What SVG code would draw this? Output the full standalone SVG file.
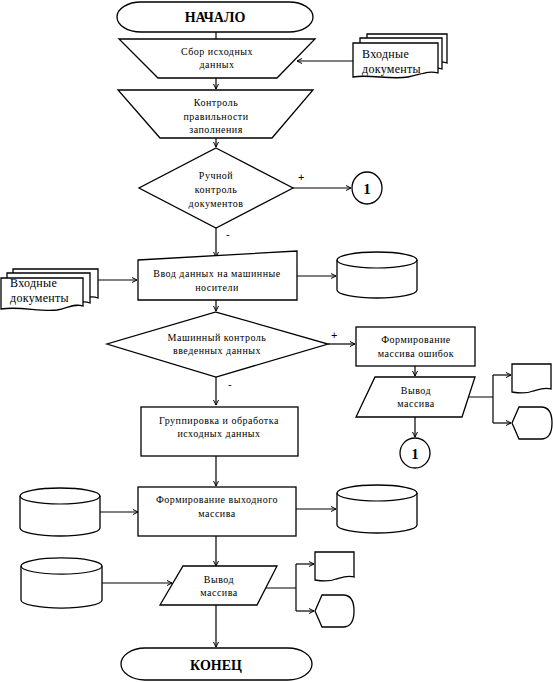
<svg xmlns="http://www.w3.org/2000/svg" width="553" height="682" viewBox="0 0 553 682">
<defs>
<style>
.s{fill:#fff;stroke:#000;stroke-width:1.3}
.c{fill:none;stroke:#000;stroke-width:1.2}
.t{font-family:"Liberation Serif","Times New Roman",serif;font-size:10px;letter-spacing:0.5px;fill:#000;text-anchor:middle}
.d{font-family:"Liberation Serif","Times New Roman",serif;font-size:12px;letter-spacing:0.3px;fill:#000}
.b{font-family:"Liberation Serif","Times New Roman",serif;font-size:14px;font-weight:bold;fill:#000;text-anchor:middle}
.l{font-family:"Liberation Sans",Arial,sans-serif;font-size:11px;fill:#000}
</style>
<marker id="a" markerWidth="8" markerHeight="8" refX="6" refY="4" orient="auto" markerUnits="userSpaceOnUse">
<path d="M1,1.5 L6,4 L1,6.5" fill="none" stroke="#000" stroke-width="1"/>
</marker>
</defs>

<g id="connectors">
<path class="c" d="M216,32 V39"/>
<path class="c" d="M216,78 V89" marker-end="url(#a)"/>
<path class="c" d="M353,61 H297" marker-end="url(#a)"/>
<path class="c" d="M216,138 V147" marker-end="url(#a)"/>
<path class="c" d="M293,188 H351" marker-end="url(#a)"/>
<path class="c" d="M216,228 V257" marker-end="url(#a)"/>
<path class="c" d="M98,280 H137" marker-end="url(#a)"/>
<path class="c" d="M297,276 H336" marker-end="url(#a)"/>
<path class="c" d="M216,300 V311" marker-end="url(#a)"/>
<path class="c" d="M328,344 H355" marker-end="url(#a)"/>
<path class="c" d="M415,366 V376" marker-end="url(#a)"/>
<path class="c" d="M468,397 H493 M493,375 V423"/>
<path class="c" d="M493,375 H511" marker-end="url(#a)"/>
<path class="c" d="M493,423 H511" marker-end="url(#a)"/>
<path class="c" d="M415,417 V437" marker-end="url(#a)"/>
<path class="c" d="M216,377 V405" marker-end="url(#a)"/>
<path class="c" d="M216,456 V486" marker-end="url(#a)"/>
<path class="c" d="M100,512 H138" marker-end="url(#a)"/>
<path class="c" d="M296,509 H336" marker-end="url(#a)"/>
<path class="c" d="M216,536 V566" marker-end="url(#a)"/>
<path class="c" d="M102,583 H172" marker-end="url(#a)"/>
<path class="c" d="M266,588 H296 M296,564 V611"/>
<path class="c" d="M296,564 H314" marker-end="url(#a)"/>
<path class="c" d="M296,611 H314" marker-end="url(#a)"/>
<path class="c" d="M216,605 V647" marker-end="url(#a)"/>
<text class="l" x="298" y="181">+</text>
<text class="l" x="226" y="238">-</text>
<text class="l" x="331" y="339">+</text>
<text class="l" x="228" y="388">-</text>
</g>

<g id="start">
<rect class="s" x="117" y="2" width="196" height="30" rx="24" ry="15"/>
<text class="b" x="215" y="22">НАЧАЛО</text>
</g>

<g id="collect">
<path class="s" d="M119,39 H315 L277,78 H158 Z"/>
<text class="t" x="217" y="55">Сбор исходных</text>
<text class="t" x="217" y="68">данных</text>
</g>

<g id="docs-top">
<path class="s" d="M367,34 H447 V63 C438,60 430,64 420,66 C405,68 385,64 367,66 Z"/>
<path class="s" d="M360,38 H442 V69 C432,66 425,70 414,72 C398,74 378,69 360,72 Z"/>
<path class="s" d="M353,43 H438 V73 C428,70 420,75 408,77 C390,80 370,74 353,77 Z"/>
<text class="d" x="362" y="58">Входные</text>
<text class="d" x="362" y="73">документы</text>
</g>

<g id="check-fill">
<path class="s" d="M118,90 H313 L272,138 H160 Z"/>
<text class="t" x="216" y="106">Контроль</text>
<text class="t" x="216" y="120">правильности</text>
<text class="t" x="216" y="133">заполнения</text>
</g>

<g id="manual-check">
<path class="s" d="M216,148 L293,188 L216,228 L139,188 Z"/>
<text class="t" x="216" y="179">Ручной</text>
<text class="t" x="216" y="193">контроль</text>
<text class="t" x="216" y="207">документов</text>
</g>

<g id="conn1-top">
<ellipse class="s" cx="367" cy="188" rx="15" ry="16"/>
<text class="b" x="367" y="194" style="font-size:15px">1</text>
</g>

<g id="docs-left">
<path class="s" d="M13,269 H98 V298 C90,295 83,299 72,301 C55,303 35,299 13,301 Z"/>
<path class="s" d="M7,273 H90 V303 C82,300 75,304 64,306 C48,308 28,303 7,306 Z"/>
<path class="s" d="M1,278 H83 V306 C75,303 68,308 57,310 C40,312 20,306 1,309 Z"/>
<text class="d" x="10" y="287">Входные</text>
<text class="d" x="10" y="302">документы</text>
</g>

<g id="input">
<path class="s" d="M138,260 L297,251 V300 H138 Z"/>
<text class="t" x="217" y="277">Ввод данных на машинные</text>
<text class="t" x="217" y="291">носители</text>
</g>

<g id="disk1">
<path class="s" d="M337,260 A40,8 0 0,1 417,260 V290 A40,8 0 0,1 337,290 Z"/>
<path class="c" d="M337,260 A40,8 0 0,0 417,260"/>
</g>

<g id="machine-check">
<path class="s" d="M216,312 L328,344 L216,377 L107,344 Z"/>
<text class="t" x="217" y="341">Машинный контроль</text>
<text class="t" x="217" y="354">введенных данных</text>
</g>

<g id="errors">
<rect class="s" x="356" y="327" width="119" height="39"/>
<text class="t" x="416" y="343">Формирование</text>
<text class="t" x="416" y="357">массива ошибок</text>
</g>

<g id="output-errors">
<path class="s" d="M375,377 H475 L462,417 H356 Z"/>
<text class="t" x="416" y="394">Вывод</text>
<text class="t" x="416" y="407">массива</text>
</g>

<g id="print1">
<path class="s" d="M512,364 H551 V389 C545,387 540,389 533,391 C526,394 518,393 512,392 Z"/>
</g>

<g id="display1">
<path class="s" d="M512,423 L519,407 H541 Q552,407 552,423 Q552,439 541,439 H519 Z"/>
</g>

<g id="conn1-bottom">
<ellipse class="s" cx="415" cy="453" rx="15" ry="15"/>
<text class="b" x="415" y="459" style="font-size:15px">1</text>
</g>

<g id="group">
<rect class="s" x="141" y="407" width="157" height="49"/>
<text class="t" x="219" y="424">Группировка и обработка</text>
<text class="t" x="219" y="437">исходных данных</text>
</g>

<g id="form-output">
<rect class="s" x="138" y="487" width="158" height="49"/>
<text class="t" x="217" y="503">Формирование выходного</text>
<text class="t" x="217" y="517">массива</text>
</g>

<g id="disk2">
<path class="s" d="M20,496 A40,8 0 0,1 100,496 V528 A40,8 0 0,1 20,528 Z"/>
<path class="c" d="M20,496 A40,8 0 0,0 100,496"/>
</g>

<g id="disk3">
<path class="s" d="M337,493 A40,8 0 0,1 417,493 V525 A40,8 0 0,1 337,525 Z"/>
<path class="c" d="M337,493 A40,8 0 0,0 417,493"/>
</g>

<g id="output">
<path class="s" d="M183,566 H277 L257,605 H160 Z"/>
<text class="t" x="219" y="583">Вывод</text>
<text class="t" x="219" y="596">массива</text>
</g>

<g id="disk4">
<path class="s" d="M21,566 A40,8 0 0,1 102,566 V600 A40,8 0 0,1 21,600 Z"/>
<path class="c" d="M21,566 A40,8 0 0,0 102,566"/>
</g>

<g id="print2">
<path class="s" d="M315,552 H354 V577 C348,575 343,577 336,579 C329,582 321,581 315,580 Z"/>
</g>

<g id="display2">
<path class="s" d="M315,611 L322,595 H343 Q354,595 354,611 Q354,627 343,627 H322 Z"/>
</g>

<g id="end">
<rect class="s" x="121" y="648" width="191" height="32" rx="24" ry="16"/>
<text class="b" x="216" y="670">КОНЕЦ</text>
</g>
</svg>
